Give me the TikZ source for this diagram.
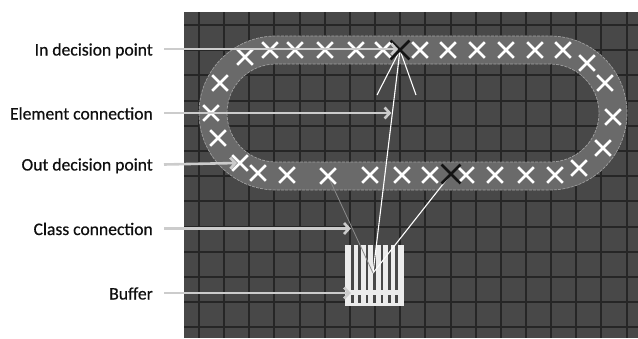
\documentclass[tikz,border=0pt]{standalone}
\usepackage{fontspec}
\setmainfont{Carlito}
\newfontfamily\lblfont{Carlito}[FakeBold=0.5]
\usetikzlibrary{arrows.meta,shapes.misc,calc}
\definecolor{panel}{RGB}{72,72,72}
\definecolor{gridc}{RGB}{38,38,38}
\definecolor{trackc}{RGB}{106,106,106}
\definecolor{trackedge}{RGB}{160,160,160}
\definecolor{callc}{RGB}{204,204,204}
\definecolor{labelc}{RGB}{15,15,15}
\definecolor{bufcol}{RGB}{236,236,236}
\definecolor{classc}{RGB}{140,140,140}
\pgfdeclarelayer{base}
\pgfdeclarelayer{lines}
\pgfsetlayers{base,lines,main}
\tikzset{
  gridline/.style={draw=gridc, line width=2pt},
  trackborder/.style={draw=trackedge, line width=0.7pt, dash pattern=on 3pt off 1.2pt},
  xw/.style={cross out, draw=white, line width=2.6pt, minimum size=13pt, inner sep=0pt},
  xb/.style={cross out, draw=black!92, line width=2.8pt, minimum size=16pt, inner sep=0pt},
  lbl/.style={text=labelc, font=\lblfont\fontsize{17.6}{20}\selectfont, inner sep=0pt},
  callout/.style={draw=callc, line width=2.6pt, -{Straight Barb[length=5pt,width=11pt]}},
  conn/.style={draw=white, line width=1.1pt},
  classline/.style={draw=classc, line width=0.8pt},
  bufbox/.style={fill=bufcol, minimum width=59pt, minimum height=61pt, inner sep=0pt}
}
\begin{document}
\begin{tikzpicture}[x=1pt,y=-1pt]
\useasboundingbox (0,0) rectangle (638,338);
\begin{pgfonlayer}{base}
  \fill[panel] (184,12) rectangle (638,338);
  \foreach \k in {0,...,17} \draw[gridline] ({199+25.15*\k},12) -- ({199+25.15*\k},338);
  \foreach \k in {0,...,12} \draw[gridline] (184,{25+25.2*\k}) -- (638,{25+25.2*\k});
  \draw[line width=28pt, trackc, rounded corners=63pt] (213,50) rectangle (613,176);
  \draw[trackborder, rounded corners=77pt] (199,36) rectangle (627,190);
  \draw[trackborder, rounded corners=49pt] (227,64) rectangle (599,162);
  \node[bufbox] (buf) at (374.5,275.5) {};
  \foreach \k in {1,...,7} {
    \fill[panel] ({345+\k*7.375-1.3},245) rectangle ++(2.6,45);
    \fill[panel] ({345+\k*7.375-1.3},295) rectangle ++(2.6,8);
  }
\end{pgfonlayer}
% track elements, top row
\foreach \x/\y [count=\i] in {245/57,270/50,295/50,325/50,356/50,383/50,420/50,448/50,477/50,506/50,535/50,563/50}
  \node[xw] (t\i) at (\x,\y) {};
% right curve
\foreach \x/\y [count=\i] in {587/63,605/83,613/117,603/148,579/168}
  \node[xw] (r\i) at (\x,\y) {};
% bottom row
\foreach \x/\y [count=\i] in {555/175,526/175,495/175,466/175,430/175,402/175,370/175,328/176,287/175,258/173}
  \node[xw] (b\i) at (\x,\y) {};
% left curve
\foreach \x/\y [count=\i] in {240/163,218/138,211/113,220/83}
  \node[xw] (l\i) at (\x,\y) {};
\node[xb] (inX) at (400,50) {};
\node[xb] (outX) at (451,174) {};
\coordinate (bufc) at (373,273);
\coordinate (fanL) at (377,95);
\coordinate (fanR) at (416,95);
\begin{pgfonlayer}{lines}
  \draw[conn] (inX.center) -- (bufc);
  \draw[conn] (outX.center) -- (bufc);
  \draw[conn] (inX.center) -- (fanL);
  \draw[conn] (inX.center) -- (fanR);
  \draw[classline] (b8.center) -- (bufc);
\end{pgfonlayer}
% labels
\node[lbl, anchor=base east] (lIn) at (153,55.5) {In decision point};
\node[lbl, anchor=base east] (lEl) at (153,119.5) {Element connection};
\node[lbl, anchor=base east] (lOut) at (153,170.5) {Out decision point};
\node[lbl, anchor=base east] (lCl) at (153,235) {Class connection};
\node[lbl, anchor=base east] (lBuf) at (153,299.5) {Buffer};
\coordinate (sIn) at (164,49);
\coordinate (sEl) at (164,113);
\coordinate (sOut) at (164,164.5);
\coordinate (sCl) at (164,228.5);
\coordinate (sBuf) at (164,293);
\coordinate (elc) at ($(inX.center)!0.283!(bufc)$);
\coordinate (clc) at ($(b8.center)!0.54!(bufc)$);
\draw[callout] (sIn) -- ([xshift=-2pt]inX.center |- sIn);
\draw[callout] (sEl) -- ([xshift=-1pt]sEl -| elc);
\draw[callout] (sOut) -- ([xshift=-3pt]l1.center);
\draw[callout] (sCl) -- ([xshift=-1.5pt]sCl -| clc);
\draw[callout] (sBuf) -- ([xshift=6pt]sBuf -| buf.west);
\end{tikzpicture}
\end{document}
